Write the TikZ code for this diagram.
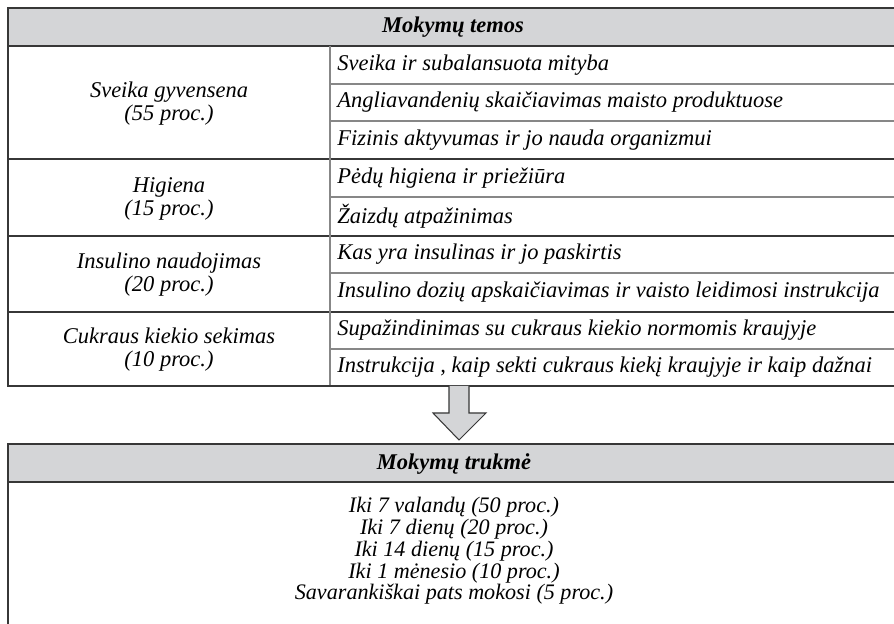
\documentclass[tikz,border=0pt]{standalone}
\usepackage{fontspec}
\setmainfont{Liberation Serif}
\usetikzlibrary{calc}
\definecolor{headgray}{RGB}{212,213,215}
\definecolor{framegray}{RGB}{55,55,55}
\definecolor{linegray}{RGB}{135,135,135}
\tikzset{%
    frame/.style={draw=framegray,line width=1.1pt},
    rowline/.style={draw=linegray,line width=0.9pt},
    headtext/.style={font=\fontsize{12.8}{14}\selectfont\itshape\bfseries,inner sep=0pt},
    topic/.style={font=\fontsize{12.8}{13}\selectfont\itshape,align=center,inner sep=0pt},
    item/.style={font=\fontsize{12.8}{14}\selectfont\itshape,anchor=west,inner sep=0pt},
    spanlist/.style={font=\fontsize{12.6}{11.4}\selectfont\itshape,align=center,inner sep=0pt},
}

\begin{document}
\begin{tikzpicture}[x=0.02cm,y=-0.02cm]
        \clip (0,0) rectangle (894,624);
        \fill[white] (0,0) rectangle (894,624);

        % upper table
        \fill[headgray] (8,8) rectangle (898,46);
        \draw[rowline] (330,84) -- (898,84);
        \draw[rowline] (330,121) -- (898,121);
        \draw[rowline] (330,197) -- (898,197);
        \draw[rowline] (330,273) -- (898,273);
        \draw[rowline] (330,349) -- (898,349);
        \draw[frame] (8,159) -- (898,159);
        \draw[frame] (8,236) -- (898,236);
        \draw[frame] (8,312) -- (898,312);
        \draw[frame] (8,46) -- (898,46);
        \draw[rowline] (330,46) -- (330,386);
        \draw[frame] (8,8) rectangle (898,386);

        \node[headtext] (temos) at (453,27) {Mokymų temos};

        \node[topic] (sveika) at (169,104) {Sveika gyvensena\\(55 proc.)};
        \node[topic] (higiena) at (169,199) {Higiena\\(15 proc.)};
        \node[topic] (insulinas) at (169,275) {Insulino naudojimas\\(20 proc.)};
        \node[topic] (cukrus) at (169,350) {Cukraus kiekio sekimas\\(10 proc.)};

        \node[item] (s1) at (337,65) {Sveika ir subalansuota mityba};
        \node[item] (s2) at (337,102.5) {Angliavandenių skaičiavimas maisto produktuose};
        \node[item] (s3) at (337,140) {Fizinis aktyvumas ir jo nauda organizmui};
        \node[item] (h1) at (337,178) {Pėdų higiena ir priežiūra};
        \node[item] (h2) at (337,216.5) {Žaizdų atpažinimas};
        \node[item] (i1) at (337,254.5) {Kas yra insulinas ir jo paskirtis};
        \node[item] (i2) at (337,292.5) {Insulino dozių apskaičiavimas ir vaisto leidimosi instrukcija};
        \node[item] (c1) at (337,330.5) {Supažindinimas su cukraus kiekio normomis kraujyje};
        \node[item] (c2) at (337,367.5) {Instrukcija , kaip sekti cukraus kiekį kraujyje ir kaip dažnai};

        % arrow
        \draw[fill=headgray,draw=framegray,line width=0.6pt]
            (449,386) -- (449,413) -- (433,413) -- (459,440) -- (486,413) -- (469,413) -- (469,386);

        % lower box
        \fill[headgray] (8,444) rectangle (898,482);
        \draw[frame] (8,482) -- (898,482);
        \draw[frame] (8,444) rectangle (898,640);

        \node[headtext] (trukme) at (454,464) {Mokymų trukmė};
        \node[spanlist] (laikas) at (454,551) {Iki 7 valandų (50 proc.)\\Iki 7 dienų (20 proc.)\\Iki 14 dienų (15 proc.)\\Iki 1 mėnesio (10 proc.)\\Savarankiškai pats mokosi (5 proc.)};
\end{tikzpicture}
\end{document}
